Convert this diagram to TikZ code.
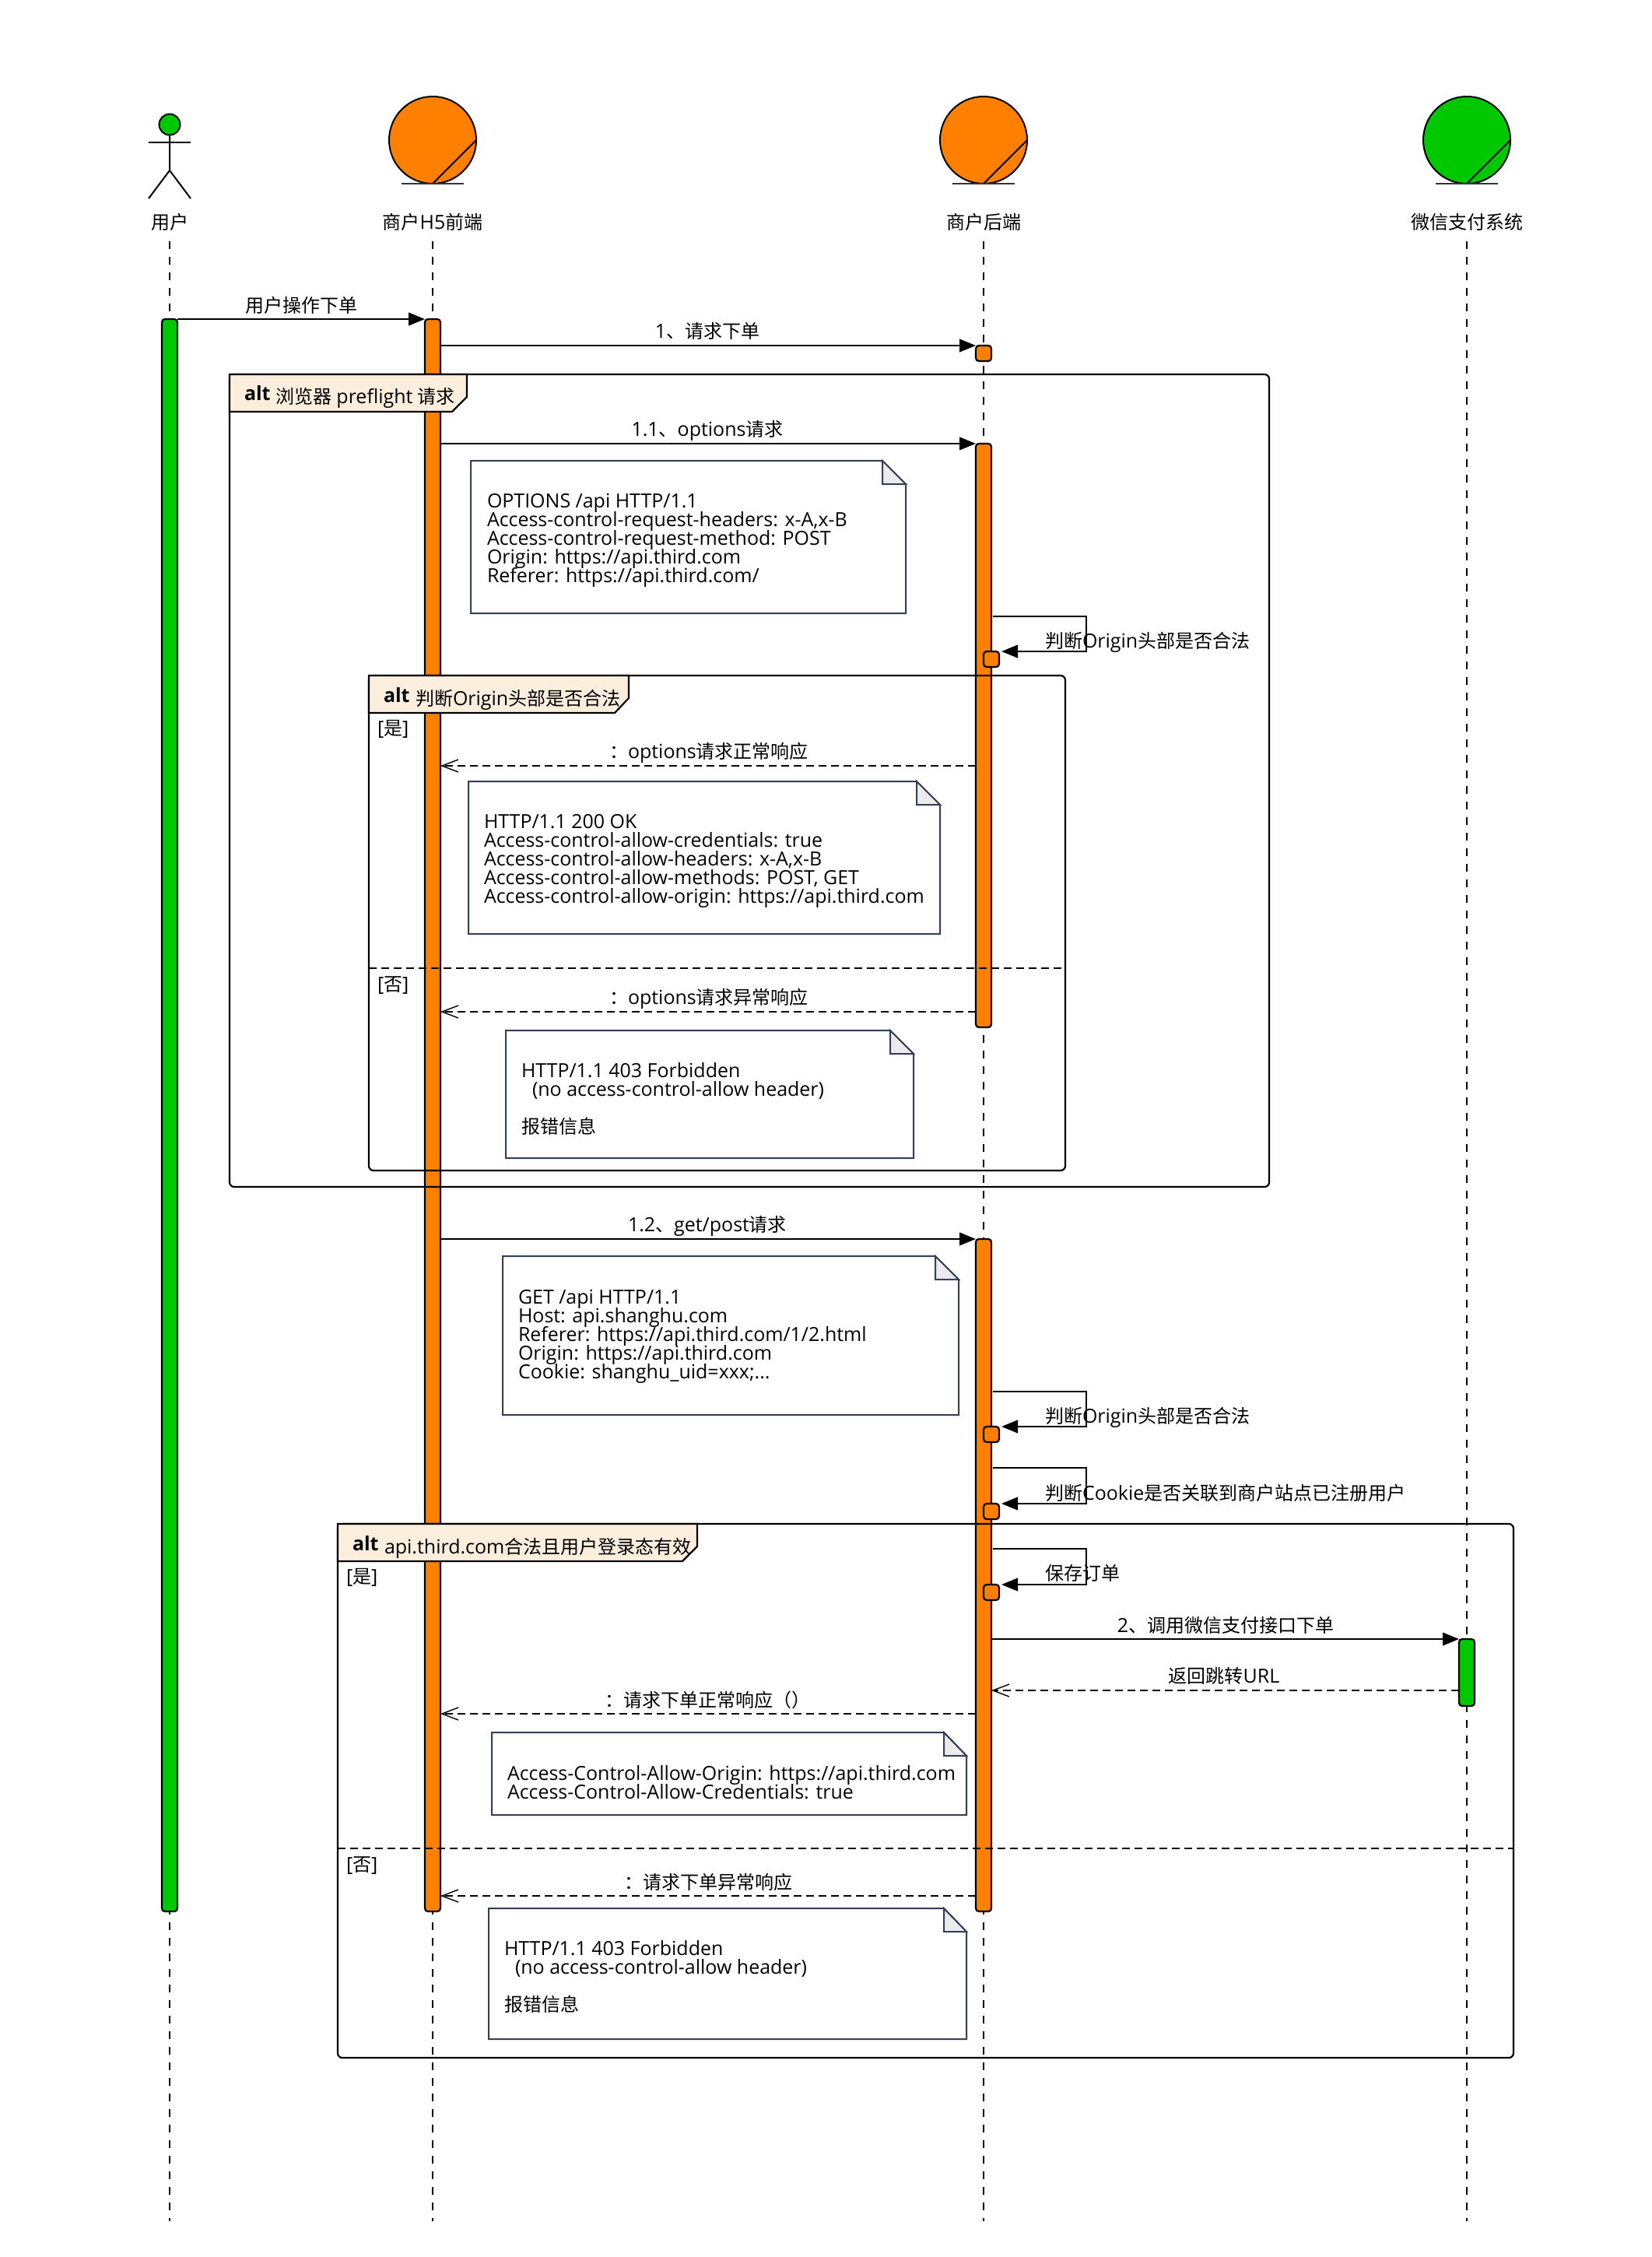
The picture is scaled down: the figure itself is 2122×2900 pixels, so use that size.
\documentclass[tikz,border=0pt]{standalone}
\usepackage{fontspec}
\setmainfont{Open Sans}[Scale=1.04]
\newfontfamily\zhfont{Noto Sans CJK SC}
\newcommand{\zh}[1]{{\zhfont #1}}
\usetikzlibrary{arrows.meta}
\lineskiplimit=-20pt
\definecolor{payorange}{HTML}{FF8000}
\definecolor{paygreen}{HTML}{00C800}
\definecolor{tabfill}{HTML}{FBEEDD}
\definecolor{noteline}{HTML}{34405A}
\definecolor{notefold}{HTML}{EBEBEB}
\tikzset{
    lifeline/.style={line width=1pt,dash pattern=on 5pt off 5pt},
    entity/.style={circle,draw,line width=1pt,minimum size=56pt,inner sep=0pt,outer sep=0pt},
    actbox/.style={draw,line width=1.1pt,rounded corners=2pt,minimum width=10pt,inner sep=0pt,outer sep=0pt,anchor=north},
    smallbox/.style={actbox,fill=payorange,minimum height=10pt},
    callmsg/.style={line width=1.1pt,-{Triangle[length=10.5pt,width=8.3pt]}},
    retmsg/.style={line width=1.1pt,dash pattern=on 5pt off 3pt,-{Straight Barb[length=10.5pt,width=8pt,line width=0.7pt]}},
    frameline/.style={line width=1.1pt,rounded corners=3pt},
    tabline/.style={draw,line width=1.1pt,fill=tabfill},
    divider/.style={line width=1.1pt,dash pattern=on 5pt off 3pt},
    notebox/.style={draw=noteline,line width=1pt,fill=white},
    notecorner/.style={draw=noteline,line width=1pt,fill=notefold},
    lbl/.style={inner sep=0pt,outer sep=0pt,text height=10.5pt,text depth=1.5pt,font=\fontsize{12}{12}\selectfont},
    lblleft/.style={lbl,anchor=west},
    notetxt/.style={inner sep=0pt,outer sep=0pt,anchor=north west,align=left,font=\fontsize{12}{12}\selectfont},
}
\begin{document}
\begin{tikzpicture}[x=0.5pt,y=-0.5pt]
\useasboundingbox[fill=white] (0,0) rectangle (2122,2900);
% lifelines
\foreach \nm/\x in {user/218,h5/556,back/1264,wx/1885}{
    \coordinate (top\nm) at (\x,310);
    \coordinate (bot\nm) at (\x,2854);
    \draw[lifeline] (top\nm) -- (bot\nm);
}
% actor
\node[circle,draw,line width=1pt,fill=paygreen,minimum size=13.5pt,inner sep=0pt] (userhead) at (218,160) {};
\coordinate (userhip) at (218,219);
\draw[line width=1pt] (userhead.south) -- (userhip) -- (191,255);
\draw[line width=1pt] (userhip) -- (245,255);
\draw[line width=1pt] (191,183) -- (245,183);
\node[lbl] (userlbl) at (218,286) {\zh{用户}};
% entities
\foreach \nm/\x/\col/\txt in {h5/556/payorange/\zh{商户}H5\zh{前端},back/1264/payorange/\zh{商户后端},wx/1885/paygreen/\zh{微信支付系统}}{
    \node[entity,fill=\col] (ent\nm) at (\x,180) {};
    \draw[line width=1pt] (ent\nm.south) -- (ent\nm.east);
    \draw[line width=1.2pt,black!80] (\x-40,236) -- (\x+40,236);
    \node[lbl] (lbl\nm) at (\x,286) {\txt};
}
% activations
\node[actbox,fill=paygreen,minimum height=1023pt] (actuser) at (218,410) {};
\node[actbox,fill=payorange,minimum height=1023pt] (acth5) at (556,410) {};
\node[smallbox] (chk0) at (1264,444) {};
\node[actbox,fill=payorange,minimum height=375pt] (actback1) at (1264,570) {};
\node[smallbox] (chk1) at (1274,837) {};
\node[actbox,fill=payorange,minimum height=432pt] (actback2) at (1264,1592) {};
\node[smallbox] (chk2) at (1274,1833) {};
\node[smallbox] (chk3) at (1274,1932) {};
\node[smallbox] (chk4) at (1274,2036) {};
\node[actbox,fill=paygreen,minimum height=43pt] (actwx) at (1885,2106) {};
% frames
\draw[frameline] (295,481) rectangle (1631,1525);
\draw[tabline] (295,481) -- (600,481) -- (600,510) -- (581,529) -- (295,529) -- cycle;
\node[lblleft,font=\fontsize{12}{12}\selectfont\bfseries] (alt1) at (314,505) {alt};
\node[lblleft] (alt1txt) at (354,509) {\zh{浏览器} preflight \zh{请求}};
\draw[frameline] (474,868) rectangle (1369,1504);
\draw[tabline] (474,868) -- (808,868) -- (808,897) -- (790,916) -- (474,916) -- cycle;
\node[lblleft,font=\fontsize{12}{12}\selectfont\bfseries] (alt2) at (493,893) {alt};
\node[lblleft] (alt2txt) at (534,897) {\zh{判断}Origin\zh{头部是否合法}};
\node[lblleft] (yes2) at (485,935) {[\zh{是}]};
\draw[divider] (474,1244) -- (1369,1244);
\node[lblleft] (no2) at (485,1264) {[\zh{否}]};
\draw[frameline] (434,1958) rectangle (1945,2644);
\draw[tabline] (434,1958) -- (896,1958) -- (896,1987) -- (877,2006) -- (434,2006) -- cycle;
\node[lblleft,font=\fontsize{12}{12}\selectfont\bfseries] (alt3) at (453,1983) {alt};
\node[lblleft] (alt3txt) at (494,1987) {api.third.com\zh{合法且用户登录态有效}};
\node[lblleft] (yes3) at (445,2025) {[\zh{是}]};
\draw[divider] (434,2375) -- (1945,2375);
\node[lblleft] (no3) at (445,2395) {[\zh{否}]};
% notes
\draw[notebox] (605,592) -- (1134,592) -- (1164,622) -- (1164,788) -- (605,788) -- cycle;
\draw[notecorner] (1134,592) -- (1164,622) -- (1134,622) -- cycle;
\node[notetxt] (note1) at (626,634) {OPTIONS /api HTTP/1.1\\Access-control-request-headers: x-A,x-B\\Access-control-request-method: POST\\Origin: https://api.third.com\\Referer: https://api.third.com/};
\draw[notebox] (602,1004) -- (1178,1004) -- (1208,1034) -- (1208,1200) -- (602,1200) -- cycle;
\draw[notecorner] (1178,1004) -- (1208,1034) -- (1178,1034) -- cycle;
\node[notetxt] (note2) at (622,1046) {HTTP/1.1 200 OK\\Access-control-allow-credentials: true\\Access-control-allow-headers: x-A,x-B\\Access-control-allow-methods: POST, GET\\Access-control-allow-origin: https://api.third.com};
\draw[notebox] (650,1324) -- (1144,1324) -- (1174,1354) -- (1174,1488) -- (650,1488) -- cycle;
\draw[notecorner] (1144,1324) -- (1174,1354) -- (1144,1354) -- cycle;
\node[notetxt] (note3) at (670,1366) {HTTP/1.1 403 Forbidden\\\hspace*{7pt}(no access-control-allow header)\\[12pt]\zh{报错信息}};
\draw[notebox] (646,1614) -- (1202,1614) -- (1232,1644) -- (1232,1818) -- (646,1818) -- cycle;
\draw[notecorner] (1202,1614) -- (1232,1644) -- (1202,1644) -- cycle;
\node[notetxt] (note4) at (666,1657) {GET /api HTTP/1.1\\Host: api.shanghu.com\\Referer: https://api.third.com/1/2.html\\Origin: https://api.third.com\\Cookie: shanghu\_uid=xxx;...};
\draw[notebox] (632,2226) -- (1213,2226) -- (1242,2256) -- (1242,2332) -- (632,2332) -- cycle;
\draw[notecorner] (1213,2226) -- (1242,2256) -- (1213,2256) -- cycle;
\node[notetxt] (note5) at (652,2269) {Access-Control-Allow-Origin: https://api.third.com\\Access-Control-Allow-Credentials: true};
\draw[notebox] (628,2452) -- (1213,2452) -- (1242,2482) -- (1242,2620) -- (628,2620) -- cycle;
\draw[notecorner] (1213,2452) -- (1242,2482) -- (1213,2482) -- cycle;
\node[notetxt] (note6) at (648,2494) {HTTP/1.1 403 Forbidden\\\hspace*{7pt}(no access-control-allow header)\\[12pt]\zh{报错信息}};
% messages
\draw[callmsg] (actuser.north east) -- (acth5.north west);
\node[lbl] (m1) at (387,392) {\zh{用户操作下单}};
\draw[callmsg] (acth5.east |- chk0.north) -- (chk0.north west);
\node[lbl] (m2) at (909,425) {1\zh{、请求下单}};
\draw[callmsg] (acth5.east |- actback1.north) -- (actback1.north west);
\node[lbl] (m3) at (909,551) {1.1\zh{、}options\zh{请求}};
\draw[callmsg] (acth5.east |- actback2.north) -- (actback2.north west);
\node[lbl] (m4) at (909,1573) {1.2\zh{、}get/post\zh{请求}};
\draw[callmsg] (actback2.east |- actwx.north) -- (actwx.north west);
\node[lbl] (m5) at (1575,2088) {2\zh{、调用微信支付接口下单}};
% self calls
\coordinate (self1) at (1276,792);
\draw[callmsg,shorten >=1.5pt] (self1) -- (1396,792) -- (1396,837) -- (chk1.north east);
\node[lblleft] (s1) at (1343,823) {\zh{判断}Origin\zh{头部是否合法}};
\coordinate (self2) at (1276,1788);
\draw[callmsg,shorten >=1.5pt] (self2) -- (1396,1788) -- (1396,1833) -- (chk2.north east);
\node[lblleft] (s2) at (1343,1819) {\zh{判断}Origin\zh{头部是否合法}};
\coordinate (self3) at (1276,1886);
\draw[callmsg,shorten >=1.5pt] (self3) -- (1396,1886) -- (1396,1932) -- (chk3.north east);
\node[lblleft] (s3) at (1343,1918) {\zh{判断}Cookie\zh{是否关联到商户站点已注册用户}};
\coordinate (self4) at (1276,1990);
\draw[callmsg,shorten >=1.5pt] (self4) -- (1396,1990) -- (1396,2036) -- (chk4.north east);
\node[lblleft] (s4) at (1343,2021) {\zh{保存订单}};
% replies
\coordinate (r1) at (0,984);
\draw[retmsg] (actback1.west |- r1) -- (acth5.east |- r1);
\node[lblleft] (t1) at (783,965) {\zh{：}options\zh{请求正常响应}};
\coordinate (r2) at (0,1300);
\draw[retmsg] (actback1.west |- r2) -- (acth5.east |- r2);
\node[lblleft] (t2) at (783,1281) {\zh{：}options\zh{请求异常响应}};
\coordinate (r3) at (0,2172);
\draw[retmsg] (actwx.west |- r3) -- (actback2.east |- r3);
\node[lbl] (t3) at (1573,2153) {\zh{返回跳转}URL};
\coordinate (r4) at (0,2202);
\draw[retmsg] (actback2.west |- r4) -- (acth5.east |- r4);
\node[lblleft] (t4) at (777,2184) {\zh{：请求下单正常响应（）}};
\coordinate (r5) at (0,2436);
\draw[retmsg] (actback2.west |- r5) -- (acth5.east |- r5);
\node[lblleft] (t5) at (802,2418) {\zh{：请求下单异常响应}};
\end{tikzpicture}
\end{document}
